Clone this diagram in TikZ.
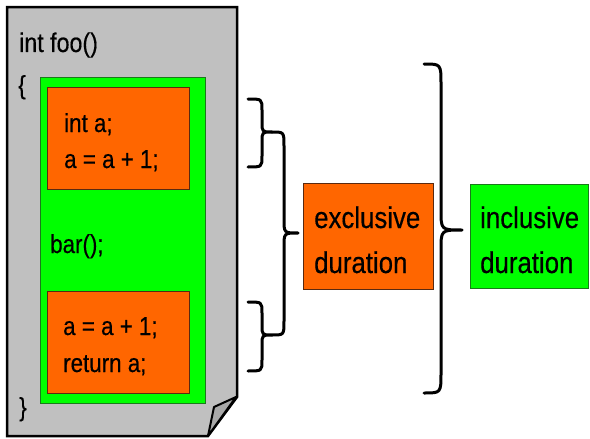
\documentclass[tikz,border=0pt]{standalone}
\usepackage{fontspec}
\usetikzlibrary{fit}
\newfontfamily\narrowsans{Liberation Sans}[FakeStretch=0.86,FakeBold=0.4]
\definecolor{pagegray}{HTML}{C0C0C0}
\definecolor{foldgray}{HTML}{A8A8A8}
\definecolor{codeorange}{HTML}{FF6600}
\definecolor{codegreen}{HTML}{00FF00}
\definecolor{greenedge}{HTML}{1A7A1A}
\definecolor{orangeedge}{HTML}{5A2A10}
\begin{document}
\begin{tikzpicture}[x=1pt,y=-1pt,
  box/.style={draw, line width=1pt, inner sep=0pt, outer sep=0pt},
  orangebox/.style={box, fill=codeorange, draw=orangeedge},
  greenbox/.style={box, fill=codegreen, draw=greenedge},
  codetext/.style={anchor=base west, inner sep=0pt, font=\narrowsans\fontsize{26}{32}\selectfont},
  labeltext/.style={anchor=base west, inner sep=0pt, font=\narrowsans\fontsize{30}{36}\selectfont},
  bracestroke/.style={draw, line width=3pt, line cap=round, line join=round}]
\useasboundingbox (0,0) rectangle (590,439);

% sheet of paper with a folded corner
\draw[fill=pagegray, line width=2.5pt, line join=miter]
  (7,7) -- (237,7) -- (237,397) -- (208,436) -- (7,436) -- cycle;
\draw[fill=foldgray, line width=2pt, line join=round]
  (236,397) -- (214,407) -- (208,436) -- cycle;

% function body
\node[codetext, font=\narrowsans\fontsize{27}{32}\selectfont] (sig) at (19,52) {int foo()};
\node[codetext] (open) at (18,94) {\{};
\node[codetext] (close) at (19,416) {\}};

\path (40,77) coordinate (g1) (205,403) coordinate (g2);
\node[greenbox, fit=(g1)(g2)] (body) {};

\draw[orangebox] (47,87) rectangle (189,189) node[midway] (blockA) {};
\draw[orangebox] (47,291) rectangle (189,393) node[midway] (blockB) {};

\node[codetext] (a1) at (64,132) {int a;};
\node[codetext] (a2) at (64,168) {a = a + 1;};
\node[codetext] (bar) at (50,253) {bar();};
\node[codetext] (b1) at (63,335) {a = a + 1;};
\node[codetext] (b2) at (63,372) {return a;};

% result boxes
\draw[orangebox] (303,183) rectangle (433,289) node[midway] (excl) {};
\node[labeltext] (ex1) at (314,228) {exclusive};
\node[labeltext] (ex2) at (314,273) {duration};

\draw[greenbox] (470,184) rectangle (588,288) node[midway] (incl) {};
\node[labeltext] (in1) at (480,228) {inclusive};
\node[labeltext] (in2) at (480,273) {duration};

% curly braces
\draw[bracestroke] (248,99) .. controls (262,99) .. (262,110) -- (262,122)
  .. controls (262,132) .. (272,132) .. controls (262,132) .. (262,142)
  -- (262,156) .. controls (262,167) .. (248,167);
\draw[bracestroke] (248,302) .. controls (262,302) .. (262,313) -- (262,325)
  .. controls (262,335) .. (272,335) .. controls (262,335) .. (262,345)
  -- (262,360) .. controls (262,371) .. (248,371);
\draw[bracestroke] (272,132) .. controls (284,132) .. (284,146) -- (284,219)
  .. controls (284,233) .. (298,233) .. controls (284,233) .. (284,247)
  -- (284,321) .. controls (284,335) .. (272,335);
\draw[bracestroke] (424,64) .. controls (441,64) .. (441,84) -- (441,210)
  .. controls (441,230) .. (462,230) .. controls (441,230) .. (441,250)
  -- (441,373) .. controls (441,393) .. (424,393);
\end{tikzpicture}
\end{document}
